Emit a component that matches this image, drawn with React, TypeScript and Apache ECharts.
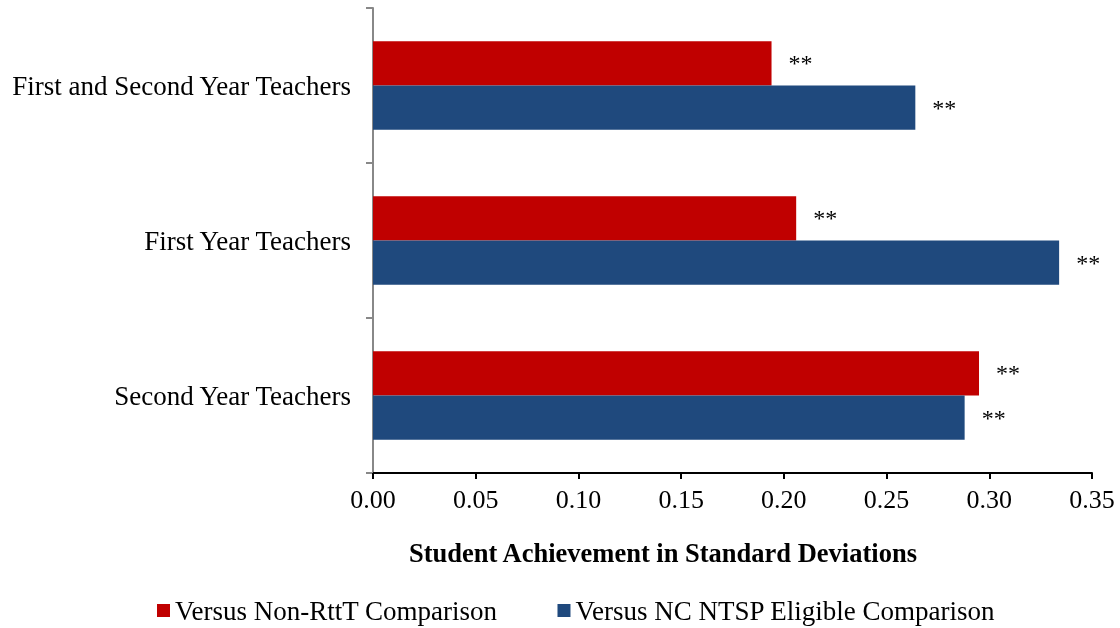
import React, { useEffect, useRef } from "react";
import * as echarts from "echarts";

const categories = ["Second Year Teachers", "First Year Teachers", "First and Second Year Teachers"];
const nonRttT = [0.295, 0.206, 0.194];
const ntspEligible = [0.288, 0.334, 0.264];
const sigNonRttT = ["**", "**", "**"];
const sigNtsp = ["**", "**", "**"];
const xTicks = { min: 0, max: 0.35, interval: 0.05 };
const xTitle = "Student Achievement in Standard Deviations";
const seriesNames = ["Versus Non-RttT Comparison", "Versus NC NTSP Eligible Comparison"];

const FONT = "'Liberation Serif', 'Times New Roman', serif";

export default function App() {
  const ref = useRef<HTMLDivElement>(null);
  useEffect(() => {
    const chart = echarts.init(ref.current!, null, { renderer: "svg" });
    const labelFor = (sig: string[]) => ({
      show: true,
      position: "right",
      distance: 17,
      fontFamily: FONT,
      fontSize: 24,
      color: "#000",
      formatter: (p: any) => sig[p.dataIndex],
    });
    chart.setOption({
      animation: false,
      textStyle: { fontFamily: FONT },
      grid: { left: 373, top: 8, width: 719, height: 465, containLabel: false },
      xAxis: {
        type: "value",
        min: xTicks.min,
        max: xTicks.max,
        interval: xTicks.interval,
        axisLine: { show: true, lineStyle: { color: "#000", width: 2 } },
        axisTick: { show: true, length: 6, lineStyle: { color: "#000", width: 2 } },
        splitLine: { show: false },
        axisLabel: {
          fontFamily: FONT,
          fontSize: 26,
          color: "#000",
          margin: 13,
          formatter: (v: number) => v.toFixed(2),
        },
      },
      yAxis: {
        type: "category",
        data: categories,
        axisLine: { show: true, lineStyle: { color: "#888", width: 2 } },
        axisTick: { show: true, length: 7, lineStyle: { color: "#888", width: 2 } },
        axisLabel: { fontFamily: FONT, fontSize: 27, color: "#000", margin: 22 },
      },
      legend: {
        left: 157,
        top: 597,
        padding: 0,
        itemWidth: 13,
        itemHeight: 13,
        itemGap: 60,
        icon: "rect",
        textStyle: { fontFamily: FONT, fontSize: 27, color: "#000" },
        data: seriesNames,
      },
      graphic: [
        {
          type: "text",
          left: 409,
          top: 539,
          style: { text: xTitle, font: `bold 26.5px ${FONT}`, fill: "#000" },
        },
      ],
      series: [
        {
          name: seriesNames[0],
          type: "bar",
          data: nonRttT,
          itemStyle: { color: "#C00000" },
          barGap: "0%",
          barCategoryGap: "43%",
          label: labelFor(sigNonRttT),
        },
        {
          name: seriesNames[1],
          type: "bar",
          data: ntspEligible,
          itemStyle: { color: "#1F497D" },
          barGap: "0%",
          barCategoryGap: "43%",
          label: labelFor(sigNtsp),
        },
      ],
    });
    return () => chart.dispose();
  }, []);
  return <div ref={ref} style={{ position: "fixed", left: 0, top: 0, width: 1120, height: 628 }} />;
}
